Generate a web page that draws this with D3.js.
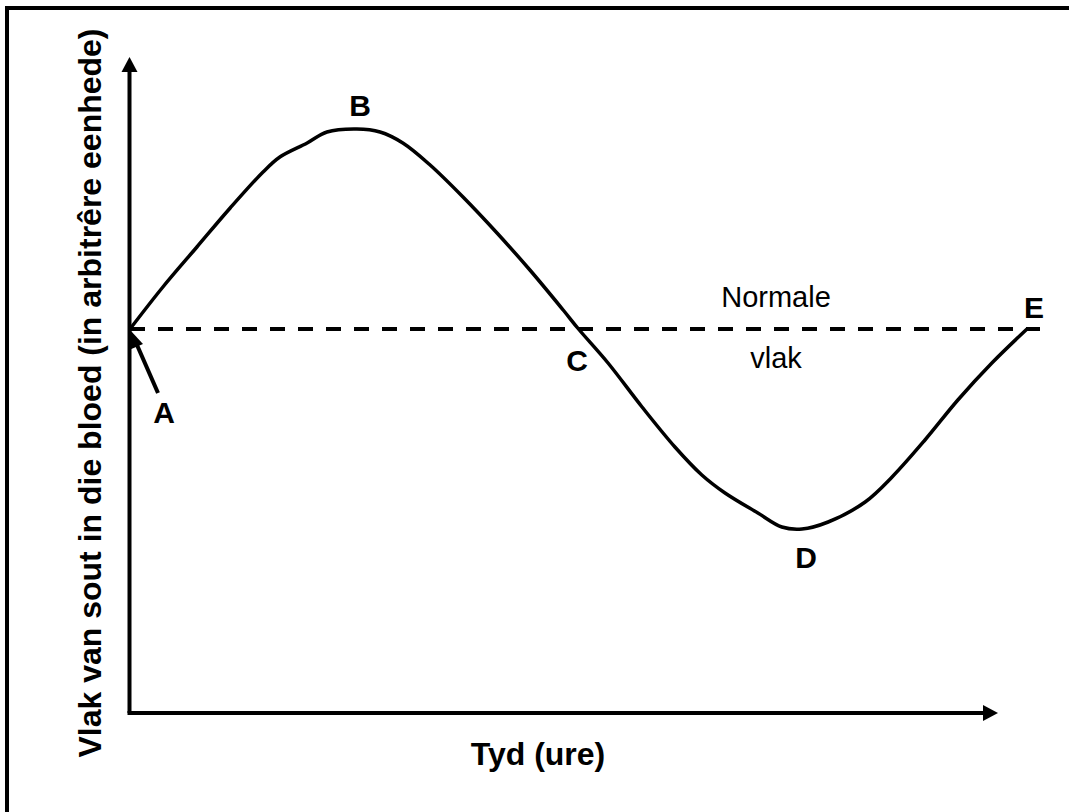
<!DOCTYPE html>
<html>
<head>
<meta charset="utf-8">
<script src="https://cdn.jsdelivr.net/npm/d3@7"></script>
<style>
  body { margin: 0; background: #fff; }
  text { font-family: "Liberation Sans", Arial, sans-serif; fill: #000; }
</style>
</head>
<body>
<div id="chart"></div>
<script>
// curve: time (hours) and salt level (arbitrary units)
const timeHours = [0, 0.88, 1.79, 2.68, 3.56, 4.01, 4.74, 5.27, 6.07, 6.69, 7.30, 8.03, 8.91, 9.82, 10.70, 11.59,
                   12, 12.79, 13.70, 14.58, 15.30, 15.92, 16.80, 17.44, 17.98, 18.68, 19.67, 20.39, 21.27, 22.15, 23.06, 24];
const saltLevel = [0, 21, 41, 60.5, 78.5, 86, 93, 98.5, 100, 98.5, 93, 82, 66, 48, 29.5, 9.5,
                   0, -17, -39, -59, -73, -82, -92, -99, -100, -96.5, -86.5, -74, -55.5, -35.5, -17, 0];
const normalLevel = 0;
const pointLabels = ['A', 'B', 'C', 'D', 'E'];
const axisTitles = ['Tyd (ure)', 'Vlak van sout in die bloed (in arbitrêre eenhede)'];
const normalText = ['Normale', 'vlak'];

const width = 1069, height = 812;
const x = d3.scaleLinear().domain([0, 24]).range([130, 1027]);
const y = d3.scaleLinear().domain([-100, 100]).range([529, 129]);

const svg = d3.select('#chart').append('svg')
    .attr('width', width)
    .attr('height', height);

// frame (only top and left edges show)
svg.append('rect')
    .attr('x', 7).attr('y', 8)
    .attr('width', 1200).attr('height', 1000)
    .attr('fill', 'none').attr('stroke', '#000').attr('stroke-width', 4);

// axes with arrow heads
const x0 = x(0) - 0.5, yBottom = 713, yTop = 57, xEnd = 998;
svg.append('line')
    .attr('x1', x0).attr('y1', yBottom).attr('x2', x0).attr('y2', yTop + 12)
    .attr('stroke', '#000').attr('stroke-width', 4);
svg.append('path')
    .attr('d', `M${x0},${yTop} L${x0 - 8},${yTop + 15} L${x0 + 8},${yTop + 15} Z`)
    .attr('fill', '#000');
svg.append('line')
    .attr('x1', x0 - 2).attr('y1', yBottom).attr('x2', xEnd - 12).attr('y2', yBottom)
    .attr('stroke', '#000').attr('stroke-width', 4);
svg.append('path')
    .attr('d', `M${xEnd},${yBottom} L${xEnd - 15},${yBottom - 8} L${xEnd - 15},${yBottom + 8} Z`)
    .attr('fill', '#000');

// normal level dashed line
svg.append('line')
    .attr('x1', x(0)).attr('x2', 1040)
    .attr('y1', y(normalLevel)).attr('y2', y(normalLevel))
    .attr('stroke', '#000').attr('stroke-width', 4)
    .attr('stroke-dasharray', '15,13');

// salt level curve
const pts = timeHours.map((t, i) => [t, saltLevel[i]]);
const line = d3.line()
    .x(d => x(d[0]))
    .y(d => y(d[1]))
    .curve(d3.curveCatmullRom.alpha(0.5));
svg.append('path')
    .datum(pts)
    .attr('d', line)
    .attr('fill', 'none')
    .attr('stroke', '#000')
    .attr('stroke-width', 3.5);

// arrow pointing at A
svg.append('line')
    .attr('x1', 158).attr('y1', 393).attr('x2', 137).attr('y2', 345)
    .attr('stroke', '#000').attr('stroke-width', 4);
svg.append('path')
    .attr('d', 'M131,331 L129,350 L143,344 Z')
    .attr('fill', '#000');

// point labels
const labelPos = [[164, 423], [360, 116], [577, 371], [806, 568], [1034, 318]];
svg.selectAll('text.pt')
    .data(pointLabels)
    .join('text')
    .attr('class', 'pt')
    .attr('x', (d, i) => labelPos[i][0])
    .attr('y', (d, i) => labelPos[i][1])
    .attr('text-anchor', 'middle')
    .attr('font-weight', 'bold')
    .attr('font-size', '30px')
    .text(d => d);

// "Normale vlak"
svg.append('text')
    .attr('x', 776).attr('y', 307)
    .attr('text-anchor', 'middle')
    .attr('font-size', '29px')
    .text(normalText[0]);
svg.append('text')
    .attr('x', 776).attr('y', 368)
    .attr('text-anchor', 'middle')
    .attr('font-size', '29px')
    .text(normalText[1]);

// axis titles
svg.append('text')
    .attr('x', 538).attr('y', 765)
    .attr('text-anchor', 'middle')
    .attr('font-weight', 'bold')
    .attr('font-size', '32px')
    .text(axisTitles[0]);
svg.append('text')
    .attr('transform', 'translate(101,393) rotate(-90)')
    .attr('text-anchor', 'middle')
    .attr('font-weight', 'bold')
    .attr('font-size', '32px')
    .text(axisTitles[1]);
</script>
</body>
</html>
